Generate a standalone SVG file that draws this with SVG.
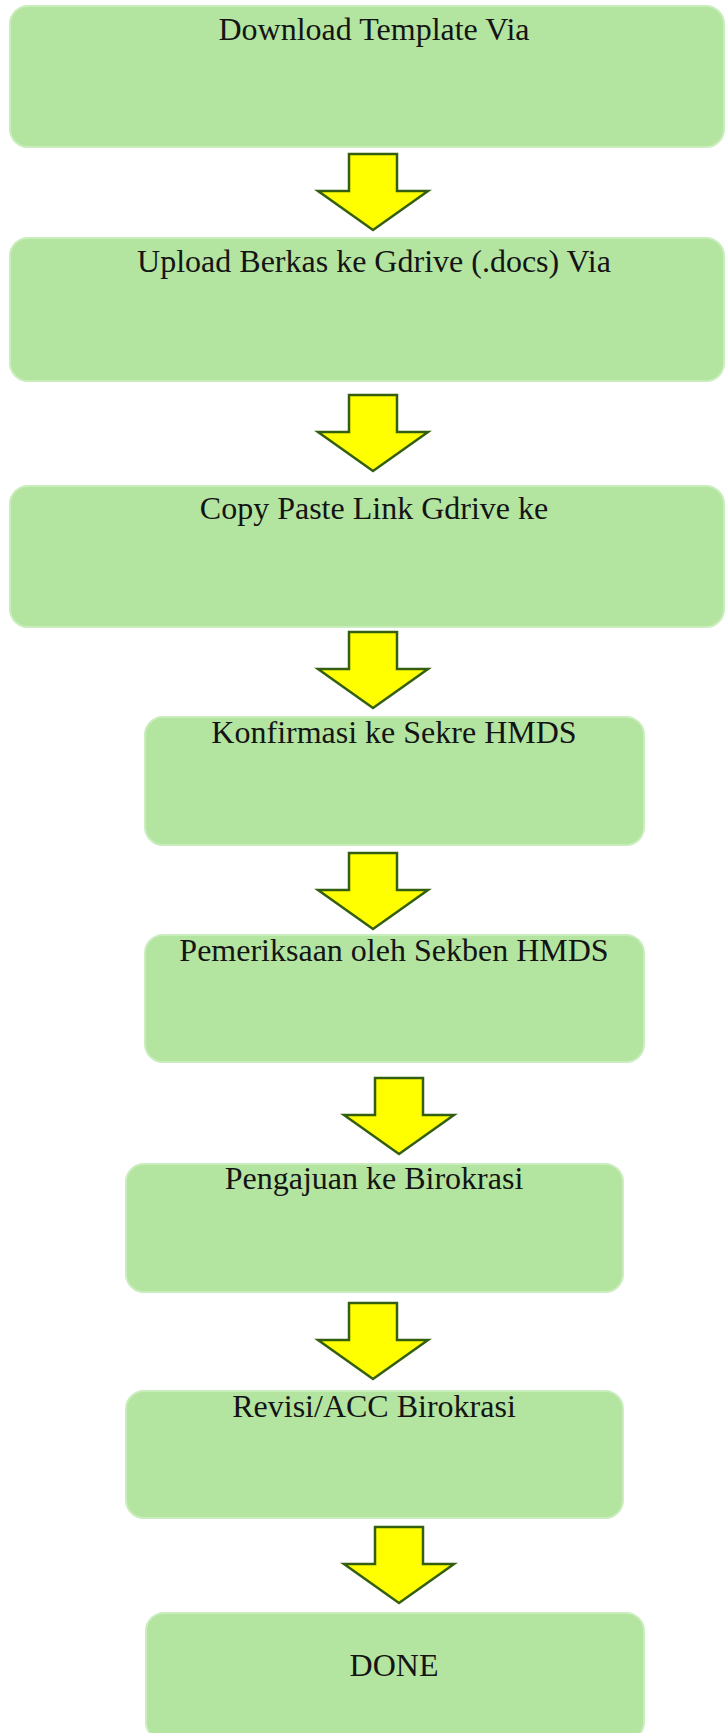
<svg xmlns="http://www.w3.org/2000/svg" width="726" height="1733" viewBox="0 0 726 1733">
<defs>
<style>
.box{fill:#b3e4a0;stroke:#c9edbd;stroke-width:2}
.lbl{font-family:"Liberation Serif","Times New Roman",serif;font-size:32px;fill:#141414;text-anchor:middle}
.arr{fill:#ffff00;stroke:#355f10;stroke-width:2.5;stroke-linejoin:miter}
</style>
<path id="arrow" d="M-24,0 H24 V37 H55 L0,76 L-55,37 H-24 Z"/>
</defs>
<rect width="726" height="1733" fill="#ffffff"/>
<g id="connectors">
<use href="#arrow" class="arr" transform="translate(373,154)"/>
<use href="#arrow" class="arr" transform="translate(373,395)"/>
<use href="#arrow" class="arr" transform="translate(373,632)"/>
<use href="#arrow" class="arr" transform="translate(373,853)"/>
<use href="#arrow" class="arr" transform="translate(399,1078)"/>
<use href="#arrow" class="arr" transform="translate(373,1303)"/>
<use href="#arrow" class="arr" transform="translate(399,1527)"/>
</g>
<g id="node1"><rect class="box" x="10" y="6" width="714" height="141" rx="18"/><text class="lbl" x="374" y="40">Download Template Via</text></g>
<g id="node2"><rect class="box" x="10" y="238" width="714" height="143" rx="18"/><text class="lbl" x="374" y="272">Upload Berkas ke Gdrive (.docs) Via</text></g>
<g id="node3"><rect class="box" x="10" y="486" width="714" height="141" rx="18"/><text class="lbl" x="374" y="519">Copy Paste Link Gdrive ke</text></g>
<g id="node4"><rect class="box" x="145" y="717" width="499" height="128" rx="18"/><text class="lbl" x="394" y="743">Konfirmasi ke Sekre HMDS</text></g>
<g id="node5"><rect class="box" x="145" y="935" width="499" height="127" rx="18"/><text class="lbl" x="394" y="961">Pemeriksaan oleh Sekben HMDS</text></g>
<g id="node6"><rect class="box" x="126" y="1164" width="497" height="128" rx="18"/><text class="lbl" x="374" y="1189">Pengajuan ke Birokrasi</text></g>
<g id="node7"><rect class="box" x="126" y="1391" width="497" height="127" rx="18"/><text class="lbl" x="374" y="1417">Revisi/ACC Birokrasi</text></g>
<g id="node8"><rect class="box" x="146" y="1613" width="498" height="127" rx="18"/><text class="lbl" x="394" y="1676">DONE</text></g>
</svg>
